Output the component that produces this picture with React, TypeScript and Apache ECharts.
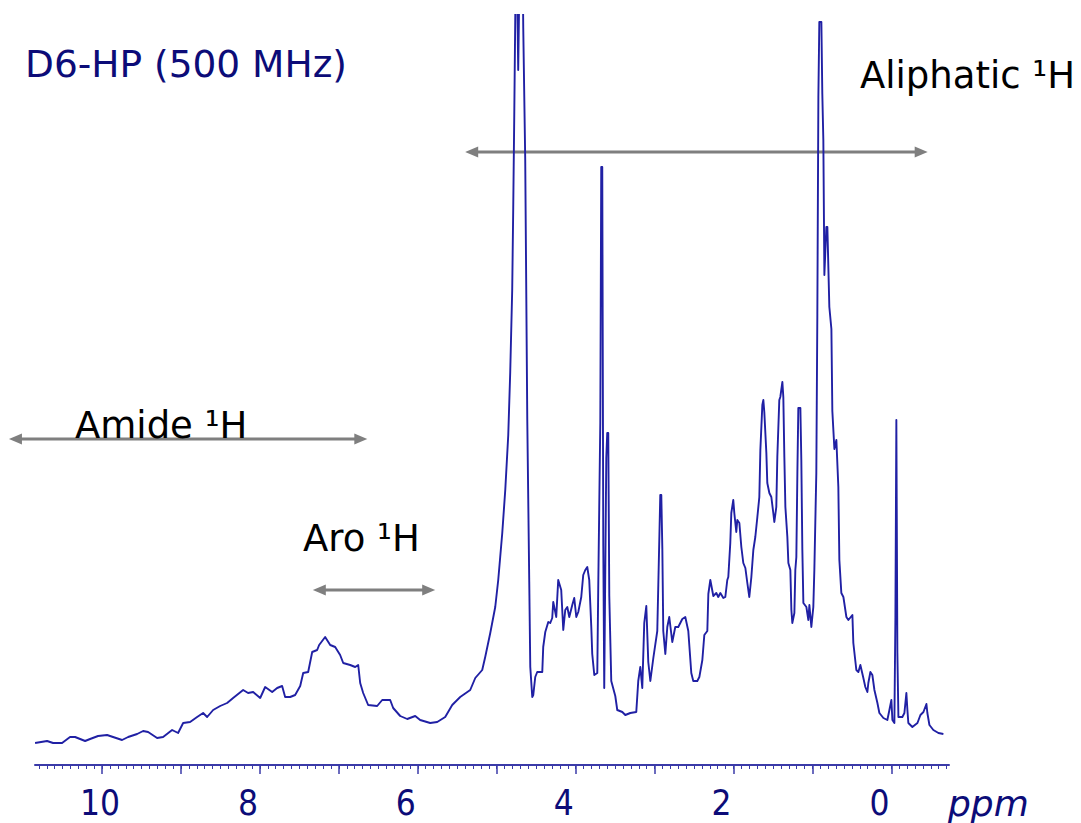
import React, { useEffect, useRef } from 'react';
import * as echarts from 'echarts';

// Chemical-shift window of the plot (ppm), drawn high-to-low as NMR convention
const PPM_MIN = -0.73;
const PPM_MAX = 10.85;
// Intensity window (arbitrary units); tall water / methyl lines run off the top
const INT_MIN = -18;
const INT_MAX = 732;

const MAJOR_TICKS = [0, 1, 2, 3, 4, 5, 6, 7, 8, 9, 10];
const TICK_LABELS = [0, 2, 4, 6, 8, 10];
const MINOR_TICKS = Array.from({ length: 116 }, (_, i) => Math.round((-0.7 + i * 0.1) * 10) / 10);

const TITLE = 'D6-HP (500 MHz)';

// Region annotations: [label, from ppm, to ppm, intensity level of the arrow]
const REGIONS: { name: string; from: number; to: number; level: number }[] = [
  { name: 'Aliphatic ¹H', from: 5.4, to: -0.46, level: 595 },
  { name: 'Amide ¹H', from: 11.18, to: 6.64, level: 308 },
  { name: 'Aro ¹H', from: 7.33, to: 5.78, level: 157 },
];

// 1D ¹H spectrum: [ppm, intensity]
const SPECTRUM: [number, number][] = [
  [10.849, 4], [10.697, 6], [10.621, 4], [10.507, 4], [10.406, 10], [10.342, 10], [10.215, 6], [10.152, 8],
  [10.051, 11], [9.937, 12], [9.861, 10], [9.747, 7], [9.670, 10], [9.556, 13], [9.480, 16], [9.417, 15],
  [9.303, 9], [9.227, 10], [9.113, 17], [9.037, 14], [8.973, 24], [8.885, 25], [8.796, 30], [8.720, 34],
  [8.669, 30], [8.593, 37], [8.504, 41], [8.416, 44], [8.340, 49], [8.213, 57], [8.150, 54], [8.086, 55],
  [7.997, 49], [7.934, 60], [7.845, 55], [7.782, 59], [7.719, 61], [7.681, 50], [7.617, 50], [7.554, 52],
  [7.490, 61], [7.452, 74], [7.389, 75], [7.338, 95], [7.275, 97], [7.250, 102], [7.174, 110], [7.110, 102],
  [7.047, 100], [6.984, 92], [6.945, 84], [6.857, 82], [6.793, 80], [6.755, 82], [6.730, 64], [6.692, 54],
  [6.629, 42], [6.515, 41], [6.451, 47], [6.350, 47], [6.312, 39], [6.223, 31], [6.134, 28], [6.033, 31],
  [5.970, 27], [5.843, 24], [5.754, 25], [5.653, 30], [5.564, 42], [5.463, 50], [5.336, 57], [5.272, 69],
  [5.184, 77], [5.146, 90], [5.082, 114], [5.019, 140], [4.981, 167], [4.956, 190], [4.930, 214], [4.892, 257],
  [4.854, 312], [4.829, 375], [4.804, 457], [4.791, 539], [4.778, 631], [4.753, 827], [4.728, 677], [4.702, 827],
  [4.677, 827], [4.664, 719], [4.639, 587], [4.613, 327], [4.588, 165], [4.575, 80], [4.550, 50], [4.537, 52],
  [4.512, 70], [4.487, 75], [4.423, 75], [4.411, 100], [4.385, 115], [4.347, 125], [4.322, 124], [4.297, 129],
  [4.284, 145], [4.246, 130], [4.221, 167], [4.183, 157], [4.157, 117], [4.132, 137], [4.106, 140], [4.081, 130],
  [4.043, 142], [4.018, 149], [3.992, 130], [3.967, 135], [3.929, 150], [3.904, 172], [3.878, 177], [3.853, 180],
  [3.828, 167], [3.802, 120], [3.790, 93], [3.764, 72], [3.726, 74], [3.714, 159], [3.688, 324], [3.676, 580],
  [3.663, 580], [3.650, 201], [3.638, 59], [3.612, 289], [3.600, 314], [3.587, 314], [3.574, 151], [3.549, 66],
  [3.498, 51], [3.473, 37], [3.409, 35], [3.371, 32], [3.308, 34], [3.232, 35], [3.207, 66], [3.181, 80],
  [3.156, 59], [3.131, 124], [3.105, 141], [3.080, 85], [3.054, 66], [3.016, 89], [2.966, 116], [2.953, 162],
  [2.928, 252], [2.915, 252], [2.902, 199], [2.890, 116], [2.864, 93], [2.839, 120], [2.814, 130], [2.776, 105],
  [2.738, 120], [2.700, 120], [2.649, 128], [2.611, 130], [2.573, 116], [2.535, 74], [2.510, 66], [2.459, 66],
  [2.433, 70], [2.395, 87], [2.370, 112], [2.332, 116], [2.319, 153], [2.294, 167], [2.256, 151], [2.218, 154],
  [2.193, 150], [2.167, 154], [2.129, 149], [2.104, 150], [2.079, 167], [2.066, 170], [2.041, 204], [2.028, 234],
  [2.003, 247], [1.990, 234], [1.965, 215], [1.952, 227], [1.926, 224], [1.901, 200], [1.876, 184], [1.850, 179],
  [1.825, 164], [1.800, 150], [1.774, 170], [1.749, 197], [1.724, 210], [1.711, 220], [1.698, 230], [1.673, 250],
  [1.660, 297], [1.635, 342], [1.622, 347], [1.610, 335], [1.584, 294], [1.572, 264], [1.546, 254], [1.521, 250],
  [1.496, 234], [1.483, 225], [1.458, 240], [1.445, 290], [1.420, 347], [1.407, 350], [1.381, 365], [1.369, 350],
  [1.356, 290], [1.343, 240], [1.318, 210], [1.305, 184], [1.280, 177], [1.267, 137], [1.255, 124], [1.229, 134],
  [1.217, 177], [1.204, 190], [1.191, 274], [1.179, 339], [1.153, 339], [1.141, 287], [1.128, 197], [1.115, 144],
  [1.077, 140], [1.052, 127], [1.039, 142], [1.014, 120], [0.989, 140], [0.976, 177], [0.951, 274], [0.938, 433],
  [0.925, 650], [0.913, 725], [0.887, 725], [0.875, 653], [0.862, 607], [0.849, 472], [0.824, 520], [0.811, 520],
  [0.786, 440], [0.760, 418], [0.748, 336], [0.722, 298], [0.697, 307], [0.672, 260], [0.659, 187], [0.634, 154],
  [0.608, 150], [0.570, 130], [0.545, 127], [0.494, 132], [0.482, 104], [0.444, 77], [0.418, 75], [0.393, 82],
  [0.355, 69], [0.330, 60], [0.304, 55], [0.292, 64], [0.266, 75], [0.241, 72], [0.215, 57], [0.177, 44],
  [0.152, 34], [0.101, 29], [0.051, 27], [0.025, 37], [0.000, 47], [-0.013, 27], [-0.038, 24], [-0.051, 130],
  [-0.063, 327], [-0.076, 94], [-0.089, 30], [-0.139, 30], [-0.165, 34], [-0.190, 54], [-0.203, 37], [-0.215, 24],
  [-0.266, 20], [-0.330, 24], [-0.368, 32], [-0.406, 35], [-0.444, 43], [-0.456, 34], [-0.482, 22], [-0.532, 17],
  [-0.596, 14], [-0.659, 13],
];

const NAVY = '#0c0c78';
const AXIS_BLUE = '#3a3aa8';
const TRACE_BLUE = '#2020a4';
const ARROW_GRAY = '#7f7f7f';
const TEXT_FONT = '"DejaVu Sans", Verdana, sans-serif';

function arrowElements(x1: number, x2: number, y: number) {
  const head = 13;
  const half = 5.5;
  const left = Math.min(x1, x2);
  const right = Math.max(x1, x2);
  return [
    {
      type: 'line',
      shape: { x1: left + head - 2, y1: y, x2: right - head + 2, y2: y },
      style: { stroke: ARROW_GRAY, lineWidth: 3 },
    },
    {
      type: 'polygon',
      shape: { points: [[left, y], [left + head, y - half], [left + head, y + half]] },
      style: { fill: ARROW_GRAY },
    },
    {
      type: 'polygon',
      shape: { points: [[right, y], [right - head, y - half], [right - head, y + half]] },
      style: { fill: ARROW_GRAY },
    },
  ];
}

export default function App() {
  const ref = useRef<HTMLDivElement>(null);

  useEffect(() => {
    if (!ref.current) return;
    const chart = echarts.init(ref.current, undefined, { renderer: 'svg' });

    const baseAxis = {
      type: 'value',
      min: PPM_MIN,
      max: PPM_MAX,
      inverse: true,
      position: 'bottom',
      splitLine: { show: false },
    };

    chart.setOption({
      animation: false,
      backgroundColor: '#ffffff',
      grid: { left: 35, right: 132, top: 15, bottom: 58, outerBoundsMode: 'none', containLabel: false },
      xAxis: [
        {
          ...baseAxis,
          axisLine: { show: true, onZero: false, lineStyle: { color: AXIS_BLUE, width: 2 } },
          axisTick: {
            show: true,
            customValues: MAJOR_TICKS,
            length: 9,
            lineStyle: { color: AXIS_BLUE, width: 1.5 },
          },
          axisLabel: {
            customValues: TICK_LABELS,
            formatter: (v: number) => String(v),
            color: NAVY,
            fontSize: 35,
            fontFamily: '"Liberation Sans Narrow", "DejaVu Sans Condensed", sans-serif',
            align: 'left',
            padding: [0, 0, 0, -22],
            margin: 20,
          },
        },
        {
          ...baseAxis,
          axisLine: { show: false, onZero: false },
          axisTick: {
            show: true,
            customValues: MINOR_TICKS,
            length: 4,
            lineStyle: { color: AXIS_BLUE, width: 1 },
          },
          axisLabel: { show: false },
        },
      ],
      yAxis: { type: 'value', min: INT_MIN, max: INT_MAX, show: false, splitLine: { show: false } },
      series: [
        {
          type: 'line',
          data: SPECTRUM,
          xAxisIndex: 0,
          yAxisIndex: 0,
          showSymbol: false,
          symbol: 'none',
          clip: true,
          silent: true,
          lineStyle: { color: TRACE_BLUE, width: 1.9, join: 'round' },
        },
      ],
    });

    const px = (ppm: number, level: number) =>
      chart.convertToPixel({ seriesIndex: 0 }, [ppm, level]) as number[];

    const arrows = REGIONS.flatMap((r) => {
      const a = px(r.from, r.level);
      const b = px(r.to, r.level);
      return arrowElements(a[0], b[0], a[1]);
    });

    const text = (t: string, x: number, y: number, fill: string, size: number, italic = false) => ({
      type: 'text',
      x,
      y,
      style: {
        text: t,
        fill,
        font: `${italic ? 'italic ' : ''}${size}px ${TEXT_FONT}`,
        textAlign: 'left',
        textVerticalAlign: 'middle',
      },
    });

    chart.setOption({
      graphic: [
        ...arrows,
        text(TITLE, 25, 64, NAVY, 37.5),
        text(REGIONS[0].name, 860, 75, '#000000', 37),
        text(REGIONS[1].name, 75, 425, '#000000', 37),
        text(REGIONS[2].name, 303, 538, '#000000', 37),
        text('ppm', 948, 803, NAVY, 36, true),
      ],
    });

    return () => chart.dispose();
  }, []);

  return (
    <div
      ref={ref}
      style={{ position: 'fixed', left: 0, top: 0, width: 1081, height: 823, background: '#fff' }}
    />
  );
}
